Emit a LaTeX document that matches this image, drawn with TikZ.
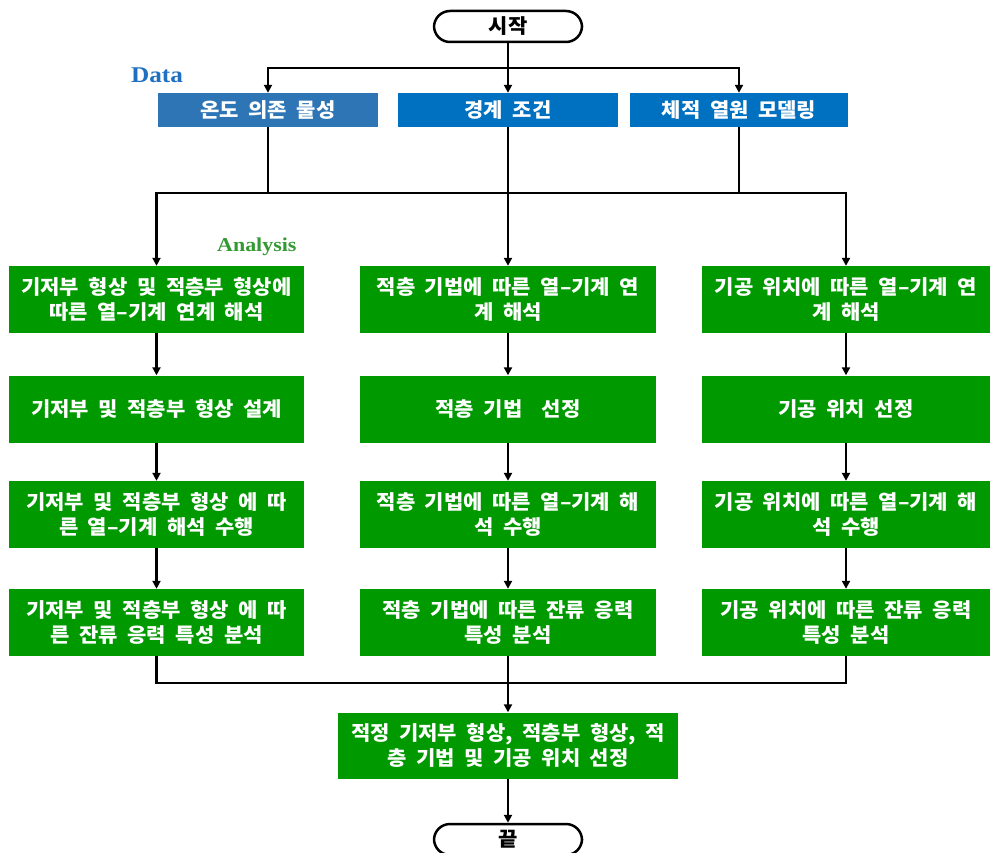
\documentclass[tikz,border=0pt]{standalone}
\usepackage{fontspec}
\newfontfamily\kr[WordSpace=2.0,FakeStretch=1.05]{Noto Sans CJK KR}
\newfontfamily\lbl[FakeStretch=1.12]{Liberation Serif}
\usetikzlibrary{arrows.meta}
\definecolor{gbox}{RGB}{0,153,0}
\definecolor{bboxa}{RGB}{46,117,182}
\definecolor{bboxb}{RGB}{0,112,192}
\definecolor{datac}{RGB}{31,112,193}
\definecolor{anac}{RGB}{51,153,51}
\begin{document}
\begin{tikzpicture}[x=1pt,y=-1pt,
  txt/.style={font=\kr\bfseries\fontsize{20}{25}\selectfont, align=center, inner sep=0pt},
  gstep/.style={txt, fill=gbox, text=white, minimum height=67pt},
  dstep/.style={txt, text=white, minimum height=34pt},
  term/.style={txt, draw=black, line width=2.5pt, rounded corners=16pt, minimum width=148pt, minimum height=31pt, fill=white},
  line/.style={draw=black, line width=2.5pt},
  arr/.style={line, -{Triangle[length=8pt,width=8pt]}}]
\useasboundingbox (0,0) rectangle (990,853);
% labels
\node[font=\lbl\bfseries\fontsize{22.5}{24}\selectfont, text=datac, anchor=base west, inner sep=0pt] (datalbl) at (131,83) {Data};
\node[font=\lbl\bfseries\fontsize{19.6}{22}\selectfont, text=anac, anchor=base west, inner sep=0pt] (analbl) at (217,251) {Analysis};
% terminals
\node[term] (start) at (508,26.5) {시작};
% data
\node[dstep, fill=bboxa, minimum width=220pt] (d1) at (268,110) {온도 의존 물성};
\node[dstep, fill=bboxb, minimum width=220pt] (d2) at (508,110) {경계 조건};
\node[dstep, fill=bboxb, minimum width=218pt] (d3) at (739,110) {체적 열원 모델링};
% left column
\node[gstep, minimum width=295pt] (l1) at (156.5,299.5) {기저부 형상 및 적층부 형상에\\따른 열–기계 연계 해석};
\node[gstep, minimum width=295pt] (l2) at (156.5,409) {기저부 및 적층부 형상 설계};
\node[gstep, minimum width=295pt] (l3) at (156.5,514.5) {기저부 및 적층부 형상 에 따\\른 열–기계 해석 수행};
\node[gstep, minimum width=295pt] (l4) at (156.5,622.5) {기저부 및 적층부 형상 에 따\\른 잔류 응력 특성 분석};
% middle column
\node[gstep, minimum width=296pt] (m1) at (508,299.5) {적층 기법에 따른 열–기계 연\\계 해석};
\node[gstep, minimum width=296pt] (m2) at (508,409) {적층 기법\ \ 선정};
\node[gstep, minimum width=296pt] (m3) at (508,514.5) {적층 기법에 따른 열–기계 해\\석 수행};
\node[gstep, minimum width=296pt] (m4) at (508,622.5) {적층 기법에 따른 잔류 응력\\특성 분석};
% right column
\node[gstep, minimum width=288pt] (r1) at (846,299.5) {기공 위치에 따른 열–기계 연\\계 해석};
\node[gstep, minimum width=288pt] (r2) at (846,409) {기공 위치 선정};
\node[gstep, minimum width=288pt] (r3) at (846,514.5) {기공 위치에 따른 열–기계 해\\석 수행};
\node[gstep, minimum width=288pt] (r4) at (846,622.5) {기공 위치에 따른 잔류 응력\\특성 분석};
% final
\node[gstep, minimum width=340pt, minimum height=66pt] (fin) at (508,745.5) {적정 기저부 형상, 적층부 형상, 적\\층 기법 및 기공 위치 선정};
\node[term] (end) at (508,839.5) {끝};
% connectors top
\coordinate (tj) at (508,68);
\draw[arr] (start.south) -- (d2.north);
\draw[arr] (tj) -| (d1.north);
\draw[arr] (tj) -| (d3.north);
\coordinate (aL) at (268,193);
\coordinate (aR) at (739,193);
\draw[line] (d1.south) -- (aL);
\draw[line] (d3.south) -- (aR);
\draw[line] (aL) -- (aR);
\draw[arr] (aL) -| (l1.north);
\draw[arr] (aR) -| (r1.north);
\draw[arr] (d2.south) -- (m1.north);
% columns
\draw[arr] (l1) -- (l2);
\draw[arr] (l2) -- (l3);
\draw[arr] (l3) -- (l4);
\draw[arr] (m1) -- (m2);
\draw[arr] (m2) -- (m3);
\draw[arr] (m3) -- (m4);
\draw[arr] (r1) -- (r2);
\draw[arr] (r2) -- (r3);
\draw[arr] (r3) -- (r4);
% bottom
\coordinate (bj) at (508,683);
\draw[line] (l4.south) |- (bj);
\draw[line] (r4.south) |- (bj);
\draw[arr] (m4.south) -- (fin.north);
\draw[arr] (fin.south) -- (end.north);
\end{tikzpicture}
\end{document}
